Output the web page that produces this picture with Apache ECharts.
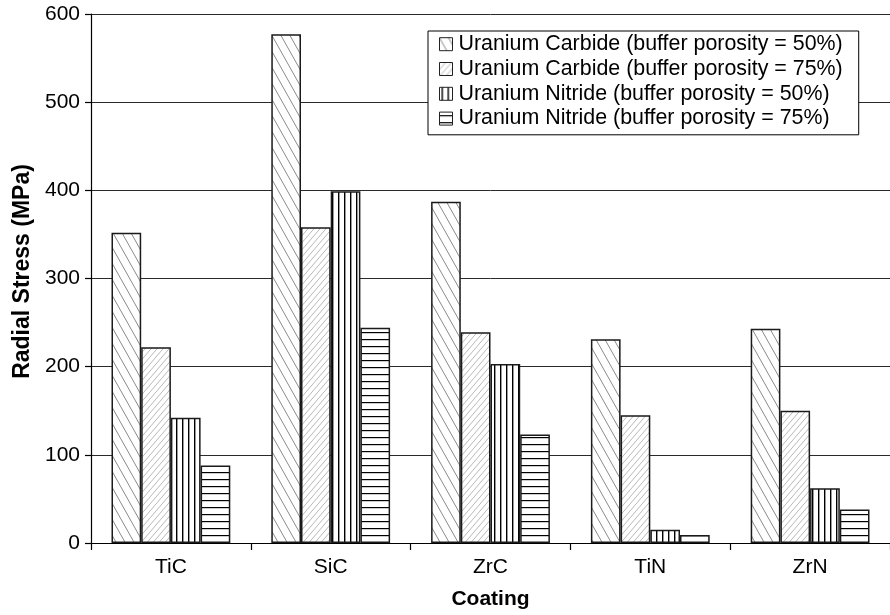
<!DOCTYPE html>
<html>
<head>
<meta charset="utf-8">
<title>Radial Stress by Coating</title>
<script src="https://cdn.jsdelivr.net/npm/echarts@6/dist/echarts.min.js"></script>
<style>
  html, body { margin: 0; padding: 0; background: #fff; }
  #chart { width: 890px; height: 615px; }
</style>
</head>
<body>
<div id="chart"></div>
<script>
// Coatings on the category axis
const coatings = ['TiC', 'SiC', 'ZrC', 'TiN', 'ZrN'];

// Radial stress (MPa) per coating, one array per fuel / buffer porosity case
const ucBuffer50 = [352, 577, 387, 231, 243];
const ucBuffer75 = [222, 358, 239, 145, 150];
const unBuffer50 = [142, 399, 203, 15, 62];
const unBuffer75 = [88, 244, 123, 9, 38];

const seriesNames = [
  'Uranium Carbide (buffer porosity = 50%)',
  'Uranium Carbide (buffer porosity = 75%)',
  'Uranium Nitride (buffer porosity = 50%)',
  'Uranium Nitride (buffer porosity = 75%)'
];

const yTicks = { min: 0, max: 600, step: 100 };

const FONT = '"Liberation Sans", Arial, Helvetica, sans-serif';

// Build a small tile for a repeating hatch fill
function tile(w, h, draw) {
  const c = document.createElement('canvas');
  c.width = w; c.height = h;
  const ctx = c.getContext('2d');
  ctx.fillStyle = '#fff';
  ctx.fillRect(0, 0, w, h);
  draw(ctx, w, h);
  return { image: c, repeat: 'repeat' };
}

// "\" hatch, medium grey
const hatchBack = tile(9, 16, (ctx, w, h) => {
  ctx.strokeStyle = '#8a8a8a';
  ctx.lineWidth = 1;
  for (let k = -1; k <= 1; k++) {
    ctx.beginPath();
    ctx.moveTo(k * w, 0);
    ctx.lineTo(k * w + w, h);
    ctx.stroke();
  }
});

// "/" hatch, light grey
const hatchFwd = tile(6, 7, (ctx, w, h) => {
  ctx.strokeStyle = '#b8b8b8';
  ctx.lineWidth = 1;
  for (let k = -1; k <= 1; k++) {
    ctx.beginPath();
    ctx.moveTo(k * w + w, 0);
    ctx.lineTo(k * w, h);
    ctx.stroke();
  }
});

// vertical black stripes
const hatchVert = tile(6, 4, (ctx, w, h) => {
  ctx.fillStyle = '#000';
  ctx.fillRect(2, 0, 1.4, h);
});

// horizontal black stripes
const hatchHorz = tile(4, 7, (ctx, w, h) => {
  ctx.fillStyle = '#000';
  ctx.fillRect(0, 3, w, 1.2);
});

const fills = [hatchBack, hatchFwd, hatchVert, hatchHorz];
const values = [ucBuffer50, ucBuffer75, unBuffer50, unBuffer75];

const chart = echarts.init(document.getElementById('chart'), null, { renderer: 'canvas' });

chart.setOption({
  backgroundColor: '#fff',
  animation: false,
  textStyle: { fontFamily: FONT, color: '#000' },
  grid: { left: 91, top: 14, width: 807.5, height: 529, containLabel: false },
  legend: {
    orient: 'vertical',
    left: 428,
    top: 31,
    icon: 'rect',
    itemWidth: 13,
    itemHeight: 13,
    itemGap: 0.4,
    padding: [1, 16, 4, 11],
    backgroundColor: '#fff',
    borderColor: '#000',
    borderWidth: 1,
    borderRadius: 0,
    itemStyle: { borderColor: '#222', borderWidth: 1 },
    textStyle: { fontFamily: FONT, fontSize: 21.4, color: '#000', lineHeight: 24.4, padding: [0, 0, 0, 1] },
    data: seriesNames
  },
  xAxis: {
    type: 'category',
    data: coatings,
    name: 'Coating',
    nameLocation: 'middle',
    nameGap: 46,
    nameTextStyle: { fontFamily: FONT, fontSize: 21, fontWeight: 'bold', color: '#000' },
    axisLine: { show: true, lineStyle: { color: '#000', width: 1.2 } },
    axisTick: { show: true, length: 7, lineStyle: { color: '#000', width: 1.2 } },
    axisLabel: { fontFamily: FONT, fontSize: 21, color: '#000', margin: 14 },
    splitLine: { show: false }
  },
  yAxis: {
    type: 'value',
    min: yTicks.min,
    max: yTicks.max,
    interval: yTicks.step,
    name: 'Radial Stress (MPa)',
    nameLocation: 'middle',
    nameGap: 56,
    nameTextStyle: { fontFamily: FONT, fontSize: 23, fontWeight: 'bold', color: '#000', padding: [0, 0, 0, 14] },
    axisLine: { show: true, lineStyle: { color: '#000', width: 1.2 } },
    axisTick: { show: true, length: 6, lineStyle: { color: '#000', width: 1.2 } },
    axisLabel: { fontFamily: FONT, fontSize: 21, color: '#000', margin: 11 },
    splitLine: { show: true, lineStyle: { color: '#2a2a2a', width: 1 } }
  },
  series: seriesNames.map((name, i) => ({
    name,
    type: 'bar',
    data: values[i],
    barWidth: 29.7,
    barGap: '0%',
    itemStyle: { color: fills[i], borderColor: '#1a1a1a', borderWidth: 1.5 },
    emphasis: { disabled: true }
  }))
});
</script>
</body>
</html>
